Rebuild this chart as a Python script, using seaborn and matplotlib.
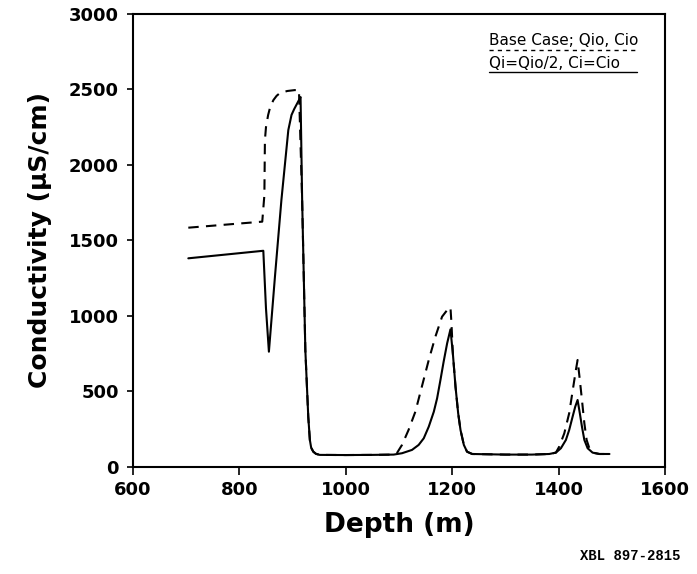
import matplotlib
matplotlib.use("Agg")
import matplotlib.pyplot as plt
import seaborn as sns
import pandas as pd

# Series: Qi=Qio/2, Ci=Cio (solid line)
half_depth = [704, 845, 850, 855.5, 867, 879, 885.5, 892, 898, 903, 907.5, 912, 915,
              918, 924, 929.5, 932.5, 935, 939, 944, 951, 1000, 1050, 1090,
              1105.7, 1124.5, 1137, 1146.6, 1156, 1165.5, 1171.7, 1178, 1184,
              1190.6, 1196.8, 1201.3, 1206.3, 1211.3, 1215.7, 1222, 1228,
              1237.7, 1300, 1350, 1382.5, 1395, 1404.4, 1413.8, 1420, 1426.4,
              1431.4, 1435.8, 1440, 1444, 1448.5, 1454.7, 1464, 1476.8, 1495.7]
half_cond = [1381, 1431, 1050, 762, 1265, 1767, 1999, 2231, 2331, 2370, 2400, 2430, 2450,
             1767, 773, 331, 177, 125, 99, 85, 78, 77, 78, 80,
             89, 111, 144, 188, 265, 364, 453, 575, 696,
             818, 910, 751, 530, 354, 243, 144, 99,
             84, 80, 80, 84, 93, 122, 177, 243, 331,
             398, 442, 354, 265, 177, 122, 93, 84, 84]

# Series: Base Case; Qio, Cio (dashed line)
base_depth = [704, 843, 847, 848, 850, 854, 858, 864, 870, 876, 890, 904, 912,
              918, 924, 929.5, 932.5, 935, 939, 944, 951, 1000, 1050, 1090,
              1096, 1105.7, 1118, 1130.8, 1143, 1156, 1168.5, 1181, 1190.6,
              1196.8, 1198.7, 1201.3, 1206.3, 1211.3, 1215.7, 1222, 1228,
              1237.7, 1300, 1350, 1382.5, 1395, 1401.3, 1410.8, 1420, 1427.7,
              1432.6, 1435.8, 1440, 1444, 1448.5, 1452.8, 1457.9, 1464, 1476.8,
              1495.7]
base_cond = [1584, 1624, 1800, 2164, 2250, 2330, 2385, 2430, 2458, 2476, 2490, 2496, 2496,
             1767, 773, 331, 177, 125, 99, 85, 78, 77, 78, 80,
             89, 144, 243, 364, 530, 707, 862, 994, 1038,
             1056, 950, 751, 530, 354, 243, 144, 99,
             84, 80, 80, 84, 93, 133, 221, 354, 530,
             641, 707, 575, 442, 288, 177, 122, 93, 84,
             84]

series_names = ["Base Case; Qio, Cio", "Qi=Qio/2, Ci=Cio"]
x_ticks = [600, 800, 1000, 1200, 1400, 1600]
y_ticks = [0, 500, 1000, 1500, 2000, 2500, 3000]

df = pd.concat([
    pd.DataFrame({"Depth": base_depth, "Cond": base_cond, "Case": series_names[0]}),
    pd.DataFrame({"Depth": half_depth, "Cond": half_cond, "Case": series_names[1]}),
], ignore_index=True)

sns.set_theme(style="white")
plt.rcParams["font.family"] = ["DejaVu Sans"]
plt.rcParams.update({"text.color": "black", "axes.labelcolor": "black",
                     "xtick.color": "black", "ytick.color": "black"})

fig = plt.figure(figsize=(6.97, 5.74), dpi=100)
ax = fig.add_axes([0.1908, 0.187, 0.7632, 0.7885])

sns.lineplot(data=df, x="Depth", y="Cond", style="Case", sort=False,
             estimator=None, units="Case", color="black", linewidth=1.5,
             dashes={series_names[0]: (5, 3.5), series_names[1]: ""},
             legend=False, ax=ax)

ax.set_xlim(600, 1600)
ax.set_ylim(0, 3000)
ax.set_xticks(x_ticks)
ax.set_yticks(y_ticks)
ax.set_xticklabels([str(t) for t in x_ticks], fontsize=13, fontweight="bold")
ax.set_yticklabels([str(t) for t in y_ticks], fontsize=13, fontweight="bold")
ax.tick_params(axis="both", which="both", direction="out", color="black",
               width=1.2, bottom=True, left=True, top=False, right=False)
ax.tick_params(axis="x", length=6, pad=4)
ax.tick_params(axis="y", length=4, pad=6)
for s in ax.spines.values():
    s.set_visible(True)
    s.set_color("black")
    s.set_linewidth(1.5)

ax.set_xlabel("Depth (m)", fontsize=19, fontweight="bold", labelpad=10)
ax.set_ylabel("Conductivity (\u03bcS/cm)", fontsize=18, fontweight="bold", labelpad=12)

# Legend: text with line-style underline
ax.text(0.669, 0.942, series_names[0], transform=ax.transAxes, fontsize=11,
        ha="left", va="center", color="black")
ax.plot([0.669, 0.947], [0.921, 0.921], transform=ax.transAxes, color="black",
        linewidth=1.0, linestyle=(0, (3, 3)))
ax.text(0.669, 0.891, series_names[1], transform=ax.transAxes, fontsize=11,
        ha="left", va="center", color="black")
ax.plot([0.669, 0.947], [0.873, 0.873], transform=ax.transAxes, color="black",
        linewidth=1.0)

fig.text(0.976, 0.02, "XBL 897-2815", ha="right", va="bottom", fontsize=10,
         family="Liberation Mono", fontweight="bold")

fig.savefig("out.png", dpi=100)
